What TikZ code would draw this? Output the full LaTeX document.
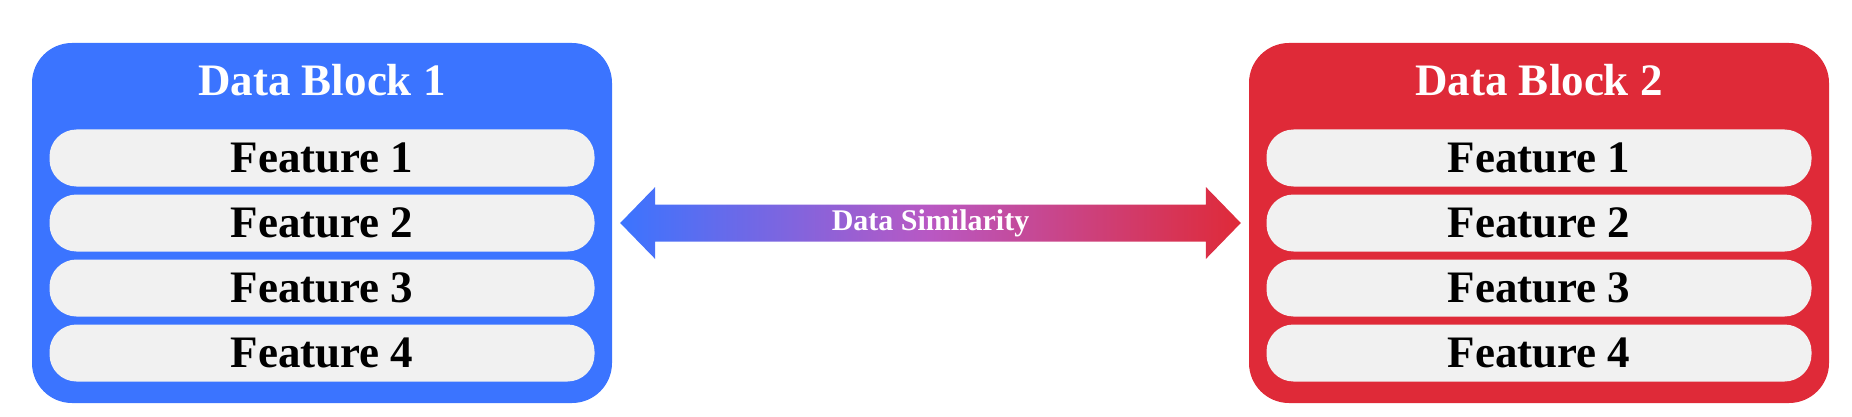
\documentclass[tikz,border=0pt]{standalone}
\usepackage{fontspec}
\setmainfont{Liberation Serif}
\usetikzlibrary{calc}
\definecolor{cblue}{RGB}{59,116,255}
\definecolor{cred}{RGB}{223,42,56}
\definecolor{cmid}{RGB}{185,88,195}
\definecolor{cpill}{RGB}{241,241,241}
\tikzset{
  block/.style={minimum width=580pt, minimum height=360pt, rounded corners=40pt, inner sep=0pt},
  pill/.style={fill=cpill, minimum width=545pt, minimum height=57pt, rounded corners=27pt, inner sep=0pt,
    font=\fontsize{45}{54}\selectfont\bfseries, text=black},
  title/.style={font=\fontsize{45}{54}\selectfont\bfseries, text=white, inner sep=0pt},
  lbl/.style={font=\fontsize{30}{36}\selectfont\bfseries, text=white, inner sep=0pt}
}
\begin{document}
\begin{tikzpicture}[x=1pt,y=-1pt]
\useasboundingbox (0,0) rectangle (1852,417);
% blocks
\node[block, fill=cblue] (b1) at (322,223) {};
\node[block, fill=cred] (b2) at (1539,223) {};
\node[title] (t1) at (322,80) {Data Block 1};
\node[title] (t2) at (1539,80) {Data Block 2};
% pills
\foreach \i/\yy in {1/158,2/223,3/288,4/353}{
  \node[pill] (f1\i) at (322,\yy) {Feature \i};
  \node[pill] (f2\i) at (1539,\yy) {Feature \i};
}
% double arrow
\coordinate (L) at ([xshift=8pt]b1.east);
\coordinate (R) at ([xshift=-8pt]b2.west);
\shade[left color=cblue, right color=cred, middle color=cmid]
  (L) -- ($(L)+(35,-36)$) -- ($(L)+(35,-18.5)$) -- ($(R)+(-35,-18.5)$) -- ($(R)+(-35,-36)$)
  -- (R) -- ($(R)+(-35,36)$) -- ($(R)+(-35,18.5)$) -- ($(L)+(35,18.5)$) -- ($(L)+(35,36)$) -- cycle;
\node[lbl] (sim) at ($(L)!0.5!(R)$) {Data Similarity};
\end{tikzpicture}
\end{document}
